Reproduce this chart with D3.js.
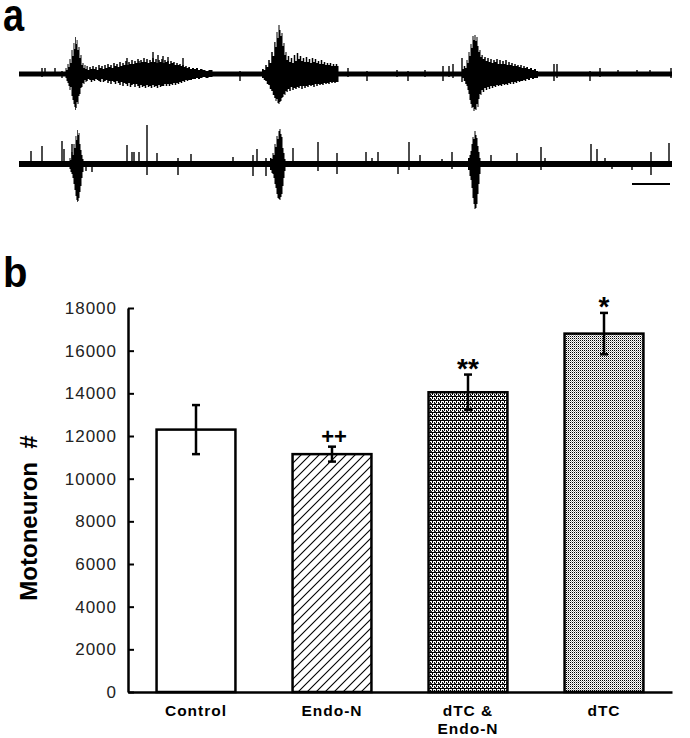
<!DOCTYPE html>
<html>
<head>
<meta charset="utf-8">
<script src="https://cdn.jsdelivr.net/npm/d3@7"></script>
<style>
  html, body { margin: 0; padding: 0; background: #fff; }
  svg { display: block; }
  text { font-family: "Liberation Sans", Arial, sans-serif; }
</style>
</head>
<body>
<svg id="chart" width="690" height="738"></svg>
<script>
// ---------------- DATA ----------------
// Panel a: two extracellular recordings (time units, amplitude units)
const traceDuration = 653;
const topBaseNoise = 2.5;
const bottomBaseNoise = 3;
// envelope points: [time, upward amplitude, downward amplitude]
const topEnvelope = [
  [46,2.5,2.5],[47,6,4],[48,4,7],[49,10,9],[50,7,12],[51,15,16],[52,11,13],[53,24,22],[54,18,26],[55,31,30],
  [55.8,25,33],[56.5,37,36],[57.3,30,34],[58,34,28],[59,24,30],[60,27,22],[61,16,20],[62,19,14],[63,9,13],[64,11,9],
  [65,6,10],[66,9,6],[67,5,8],[68,8,7],[69.5,4,5],[71,7,6],[72.5,5,8],[74,8,6],[75.5,5,7],[77,7,5],[78.5,4,6],
  [80,9,7],[81.5,6,8],[83,8,5],[84.5,5,8],[86,9,7],[87.5,6,6],[89,10,9],[90.5,7,7],[92,9,10],[93.5,6,7],[95,11,8],
  [96.5,8,10],[98,10,7],[99.5,7,9],[101,12,11],[102.5,8,8],[104,11,12],[105.5,9,9],[107,13,10],[108.5,9,12],
  [110,12,9],[111.5,10,13],[113,14,11],[114.5,10,10],[116,13,13],[117.5,11,10],[119,15,12],[120.5,11,14],
  [122,14,11],[123.5,12,13],[125,16,12],[126.5,12,14],[128,15,11],[129.5,11,13],[131,14,12],[132.5,12,14],
  [134,16,11],[135.5,12,13],[137,15,12],[138.5,11,14],[140,14,11],[141.5,12,13],[143,15,12],[144.5,11,12],
  [146,14,10],[147.5,12,12],[149,13,10],[150.5,10,12],[152,13,10],[153.5,11,11],[155,12,9],[156.5,9,11],
  [158,11,9],[159.5,9,10],[161,10,8],[162.5,8,9],[164,9,7],[165.5,7,8],[167,8,6],[168.5,6,7],[170,7,6],[172,5,6],
  [174,6,5],[176,5,5],[178,6,4],[180,4,5],[182,5,4],[185,4,3],[188,3,4],[191,4,3],[196,2.5,2.5],
  [242,2.5,2.5],[244,5,4],[245.5,4,6],[247,9,7],[248.5,7,10],[250,14,11],[251.5,11,15],[253,22,17],[254.5,18,21],
  [256,32,24],[257,27,27],[258,42,25],[259,36,29],[260,49,30],[261,44,28],[262,38,27],[263,41,24],[264,28,23],
  [265,31,20],[266,19,21],[267,22,17],[268,14,18],[269.5,18,15],[271,12,17],[272.5,16,13],[274,11,16],
  [275.5,19,14],[277,13,15],[278.5,21,13],[280,15,14],[281.5,18,12],[283,13,15],[284.5,16,12],[286,12,14],
  [287.5,17,12],[289,12,13],[290.5,15,11],[292,11,12],[293.5,16,11],[295,12,13],[296.5,15,10],[298,11,12],
  [299.5,13,10],[301,10,11],[302.5,14,10],[304,10,11],[305.5,12,9],[307,9,10],[308.5,11,9],[310,9,10],
  [311.5,11,8],[313,8,9],[314.5,10,8],[316,8,9],[317.5,10,8],[319,8,8],[320,2.5,2.5],
  [442,2.5,2.5],[444,5,4],[445.5,8,7],[447,6,10],[448,14,12],[449,11,16],[450,22,20],[451,18,26],[452,30,30],
  [453,26,34],[454,38,33],[455,34,37],[456,39,35],[457,33,36],[458,37,30],[459,28,33],[460,22,25],[461,24,20],
  [462,17,21],[463,19,16],[464.5,15,18],[466,17,14],[467.5,13,16],[469,16,13],[470.5,12,15],[472,15,12],
  [473.5,11,14],[475,14,12],[476.5,12,13],[478,15,11],[479.5,10,12],[481,14,11],[482.5,10,12],[484,13,10],
  [485.5,10,11],[487,14,10],[488.5,9,11],[490,12,9],[491.5,9,10],[493,11,8],[494.5,8,10],[496,10,8],[497.5,8,9],
  [499,9,7],[500.5,7,8],[502,9,7],[503.5,6,7],[505,8,6],[506.5,6,7],[508,7,5],[510,5,6],[512,6,4],[514,4,5],
  [516,5,4],[518,3,4],[520,2.5,2.5]
];
// isolated spikes: [time, up, down]
const topSpikes = [
  [23,6,3],[26,6,2],[36,6,2],[43,3,4],[108,16,4],[120,13,3],[134,22,4],[139,19,4],[144,18,4],[149,17,3],[164,16,4],
  [221,3,7],[329,6,3],[348,3,7],[378,4,3],[389,3,7],[406,4,3],[424,8,7],[430,8,3],[434,10,4],[443,16,8],
  [535,10,7],[538,10,4],[571,3,7],[581,6,3],[599,4,2],[618,4,2],[631,4,2],[652,6,4]
];
const bottomEnvelope = [
  [50,3,3],[51,6,5],[52,4,8],[53,12,10],[54,9,14],[55,20,20],[56,16,26],[57,28,32],[57.8,24,36],[58.5,34,38],
  [59.2,29,37],[60,31,34],[61,20,28],[62,14,22],[63,9,14],[64,5,8],[65,3,3],
  [250,3,3],[252,6,6],[253,5,9],[254,11,10],[255,9,14],[256,20,20],[257,17,24],[258,28,30],[259,25,34],
  [260,33,35],[261,35,36],[262,30,33],[263,27,30],[264,16,22],[265,11,14],[266,5,7],[267,3,3],
  [448,3,3],[450,6,6],[451,9,12],[452,13,16],[453,20,24],[454,27,34],[455,25,40],[456,33,45],[457,29,44],
  [458,26,40],[459,18,30],[460,12,20],[461,6,10],[462,3,3]
];
const bottomSpikes = [
  [12,13,2],[23,18,2],[43,23,3],[45,15,3],[53,20,3],[67,3,7],[73,3,8],[108,19,3],[113,12,3],[115,12,3],[120,12,3],
  [128,39,11],[138,11,3],[159,6,11],[172,10,3],[214,7,3],[234,9,12],[238,15,3],[247,6,12],[274,16,3],[299,22,7],
  [318,11,10],[347,12,3],[353,6,3],[359,12,3],[379,3,10],[390,22,6],[401,9,3],[423,5,3],[433,12,5],[472,9,3],
  [498,11,3],[522,17,6],[526,6,3],[572,20,3],[578,15,3],[586,6,3],[593,3,5],[613,3,6],[632,12,11],[650,21,3]
];
const scaleBarTime = [613, 651];

// Panel b: motoneuron counts
const categories = ["Control", "Endo-N", "dTC & Endo-N", "dTC"];
const tickLabelLines = [["Control"], ["Endo-N"], ["dTC &", "Endo-N"], ["dTC"]];
const means = [12300, 11150, 14050, 16800];
const sems = [1150, 350, 830, 970];
const significance = ["", "++", "**", "*"];
const yTicks = [0, 2000, 4000, 6000, 8000, 10000, 12000, 14000, 16000, 18000];
const yMax = 18000;
const fills = ["url(#pWhite)", "url(#pHatch)", "url(#pWeave)", "url(#pDots)"];

// ---------------- DRAW ----------------
const svg = d3.select("#chart");
const defs = svg.append("defs");

// patterns
const pW = defs.append("pattern").attr("id","pWhite").attr("patternUnits","userSpaceOnUse").attr("width",4).attr("height",4);
pW.append("rect").attr("width",4).attr("height",4).attr("fill","#fff");

const pH = defs.append("pattern").attr("id","pHatch").attr("patternUnits","userSpaceOnUse").attr("width",9).attr("height",9);
pH.append("rect").attr("width",9).attr("height",9).attr("fill","#fff");
pH.append("path").attr("d","M0,9 L9,0 M-2,2 L2,-2 M7,11 L11,7").attr("stroke","#000").attr("stroke-width",1.1);

const pV = defs.append("pattern").attr("id","pWeave").attr("patternUnits","userSpaceOnUse").attr("width",4).attr("height",4);
pV.append("rect").attr("width",4).attr("height",4).attr("fill","#fff");
pV.append("rect").attr("x",0).attr("y",0).attr("width",4).attr("height",1).attr("fill","#000");
pV.append("rect").attr("x",0).attr("y",1).attr("width",1).attr("height",2).attr("fill","#000");
pV.append("rect").attr("x",2).attr("y",2).attr("width",1).attr("height",1).attr("fill","#000");
pV.append("rect").attr("x",2).attr("y",3).attr("width",2).attr("height",1).attr("fill","#333");

const pD = defs.append("pattern").attr("id","pDots").attr("patternUnits","userSpaceOnUse").attr("width",2).attr("height",2);
pD.append("rect").attr("width",2).attr("height",2).attr("fill","#fff");
pD.append("rect").attr("width",1).attr("height",1).attr("fill","#000");
pD.append("rect").attr("x",1).attr("y",1).attr("width",1).attr("height",1).attr("fill","#a8a8a8");

// panel labels
svg.append("text").attr("transform","translate(3,31) scale(1,1.2)").attr("font-size",38).attr("font-weight","bold").text("a");
svg.append("text").attr("transform","translate(3,287) scale(1,1.05)").attr("font-size",40).attr("font-weight","bold").text("b");

// ---- panel a ----
const tx = d3.scaleLinear().domain([0, traceDuration]).range([19, 672]);
const amp = d3.scaleLinear().domain([-50, 50]).range([50, -50]);

function drawTrace(baselineY, envelope, spikes, noise) {
  const g = svg.append("g").attr("transform", `translate(0,${baselineY})`);
  const pts = [[0, noise, noise], ...envelope.map(d => [d[0], Math.max(d[1], noise), Math.max(d[2], noise)]), [traceDuration, noise, noise]];
  g.append("path")
    .datum(pts)
    .attr("fill", "#000")
    .attr("d", d3.area().curve(d3.curveStep).x(d => tx(d[0])).y0(d => amp(-d[2])).y1(d => amp(d[1])));
  g.selectAll("line.spike").data(spikes).enter().append("line")
    .attr("class","spike")
    .attr("x1", d => tx(d[0])).attr("x2", d => tx(d[0]))
    .attr("y1", d => amp(d[1])).attr("y2", d => amp(-d[2]))
    .attr("stroke","#000").attr("stroke-width",1.4);
  return g;
}
drawTrace(74, topEnvelope, topSpikes, topBaseNoise);
const gb = drawTrace(164, bottomEnvelope, bottomSpikes, bottomBaseNoise);
gb.append("line")
  .attr("x1", tx(scaleBarTime[0])).attr("x2", tx(scaleBarTime[1]))
  .attr("y1", amp(-20)).attr("y2", amp(-20))
  .attr("stroke","#000").attr("stroke-width",2);

// ---- panel b ----
const x = d3.scaleBand().domain(categories).range([128, 672]).paddingInner(0.42).paddingOuter(0.21);
const y = d3.scaleLinear().domain([0, yMax]).range([692, 308]);

// bars
svg.selectAll("rect.bar").data(categories).enter().append("rect")
  .attr("class","bar")
  .attr("x", d => x(d))
  .attr("width", x.bandwidth())
  .attr("y", (d,i) => y(means[i]))
  .attr("height", (d,i) => y(0) - y(means[i]))
  .attr("fill", (d,i) => fills[i])
  .attr("stroke", "#000").attr("stroke-width", 2.5);

// error bars
const eb = svg.append("g");
categories.forEach((c,i) => {
  const cx = x(c) + x.bandwidth()/2;
  const top = y(means[i] + sems[i]), bot = y(means[i] - sems[i]);
  eb.append("line").attr("x1",cx).attr("x2",cx).attr("y1",top).attr("y2",bot).attr("stroke","#000").attr("stroke-width",2.5);
  eb.append("line").attr("x1",cx-4).attr("x2",cx+4).attr("y1",top).attr("y2",top).attr("stroke","#000").attr("stroke-width",2.5);
  eb.append("line").attr("x1",cx-4).attr("x2",cx+4).attr("y1",bot).attr("y2",bot).attr("stroke","#000").attr("stroke-width",2.5);
  if (significance[i]) {
    const isStar = significance[i].includes("*");
    svg.append("text")
      .attr("x", cx + (isStar ? 0 : 2))
      .attr("y", top - (isStar ? -3 : 3))
      .attr("text-anchor","middle")
      .attr("font-size", isStar ? 28 : 22)
      .attr("font-weight","bold")
      .text(significance[i]);
  }
});

// y axis
const yAxis = svg.append("g").attr("transform","translate(128,0)")
  .call(d3.axisLeft(y).tickValues(yTicks).tickSizeInner(-6).tickSizeOuter(0).tickPadding(11).tickFormat(d3.format("d")));
yAxis.select(".domain").attr("stroke-width",2.5);
yAxis.selectAll(".tick line").attr("stroke-width",2);
yAxis.selectAll(".tick text").attr("font-size",17).attr("fill","#222").attr("letter-spacing","1px")
  .attr("font-family","'Liberation Sans', Arial, sans-serif");

// x axis
const xAxis = svg.append("g").attr("transform","translate(0,692)")
  .call(d3.axisBottom(x).tickSize(0).tickSizeOuter(0).tickFormat(""));
xAxis.select(".domain").attr("stroke-width",2.5);
xAxis.selectAll(".tick").each(function(d, i) {
  const lines = tickLabelLines[i];
  lines.forEach((line, j) => {
    d3.select(this).append("text")
      .attr("text-anchor","middle").attr("fill","#000")
      .attr("font-size",15.5).attr("font-weight","bold").attr("letter-spacing","1px")
      .attr("font-family","'Liberation Sans', Arial, sans-serif")
      .attr("x",0).attr("y", 24 + j*18).text(line);
  });
});

// y title
svg.append("text")
  .attr("transform","translate(37,518) rotate(-90)")
  .attr("text-anchor","middle")
  .attr("font-size",24).attr("font-weight","bold")
  .style("white-space","pre")
  .text("Motoneuron  #");
</script>
</body>
</html>
